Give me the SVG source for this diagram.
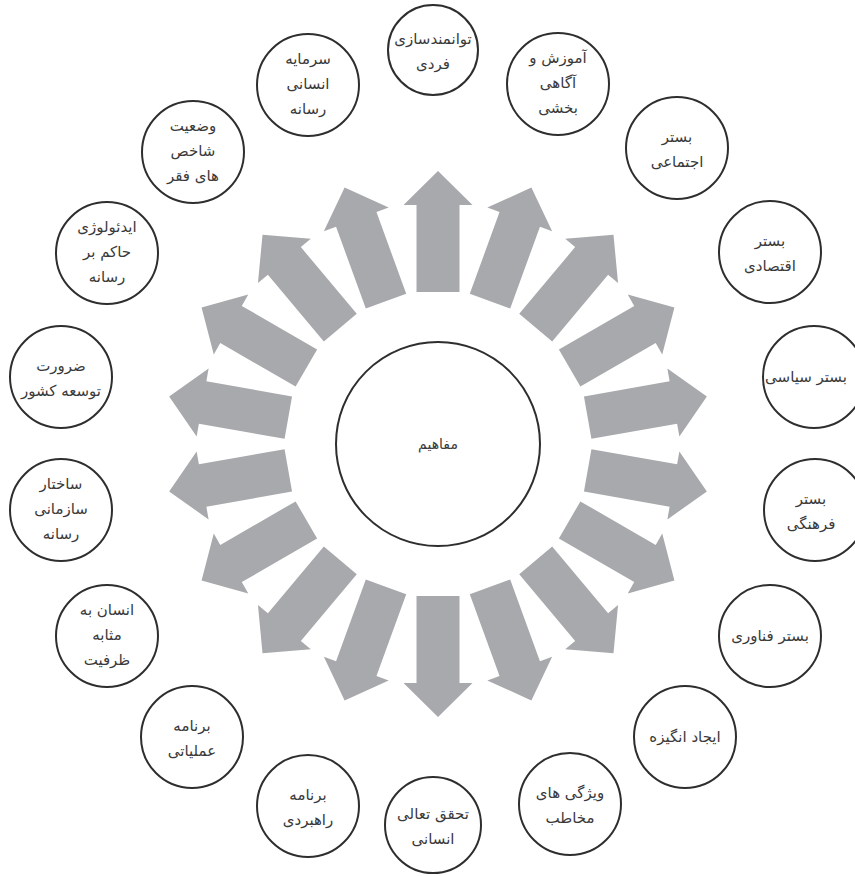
<svg xmlns="http://www.w3.org/2000/svg" xmlns:xlink="http://www.w3.org/1999/xlink" width="855" height="876" viewBox="0 0 855 876">
<style>
.c{fill:#fff;stroke:#2e2e2e;stroke-width:2}
.t{font-family:"DejaVu Sans",sans-serif;font-size:15px;fill:#3a3a3a;text-anchor:middle}
.a{fill:#a7a9ac}
</style>
<defs>
<path id="arr" class="a" d="M152,-21.5 L239,-21.5 L239,-34.5 L273,0 L239,34.5 L239,21.5 L152,21.5 Z"/>
</defs>
<rect width="855" height="876" fill="#fff"/>
<g id="connectors" transform="translate(438,444)">
<use xlink:href="#arr" transform="rotate(-90)"/>
<use xlink:href="#arr" transform="rotate(-70)"/>
<use xlink:href="#arr" transform="rotate(-50)"/>
<use xlink:href="#arr" transform="rotate(-30)"/>
<use xlink:href="#arr" transform="rotate(-10)"/>
<use xlink:href="#arr" transform="rotate(10)"/>
<use xlink:href="#arr" transform="rotate(30)"/>
<use xlink:href="#arr" transform="rotate(50)"/>
<use xlink:href="#arr" transform="rotate(70)"/>
<use xlink:href="#arr" transform="rotate(90)"/>
<use xlink:href="#arr" transform="rotate(110)"/>
<use xlink:href="#arr" transform="rotate(130)"/>
<use xlink:href="#arr" transform="rotate(150)"/>
<use xlink:href="#arr" transform="rotate(170)"/>
<use xlink:href="#arr" transform="rotate(190)"/>
<use xlink:href="#arr" transform="rotate(210)"/>
<use xlink:href="#arr" transform="rotate(230)"/>
<use xlink:href="#arr" transform="rotate(250)"/>
</g>
<g id="center"><circle class="c" cx="438" cy="444" r="102"/><text class="t" x="438" y="449" style="font-size:14px">مفاهیم</text></g>
<g id="n1"><circle class="c" cx="433" cy="50" r="45"/><text class="t" x="433" y="44">توانمندسازی</text><text class="t" x="433" y="69">فردی</text></g>
<g id="n2"><circle class="c" cx="558" cy="84" r="51"/><text class="t" x="558" y="63">آموزش و</text><text class="t" x="558" y="88">آگاهی</text><text class="t" x="558" y="113">بخشی</text></g>
<g id="n3"><circle class="c" cx="677" cy="148" r="51"/><text class="t" x="677" y="142">بستر</text><text class="t" x="677" y="167">اجتماعی</text></g>
<g id="n4"><circle class="c" cx="770" cy="252" r="51"/><text class="t" x="770" y="246">بستر</text><text class="t" x="770" y="271">اقتصادی</text></g>
<g id="n5"><circle class="c" cx="814" cy="377" r="51"/><text class="t" x="806" y="382">بستر سیاسی</text></g>
<g id="n6"><circle class="c" cx="815" cy="510" r="51"/><text class="t" x="811" y="504">بستر</text><text class="t" x="811" y="529">فرهنگی</text></g>
<g id="n7"><circle class="c" cx="770" cy="636" r="51"/><text class="t" x="770" y="641">بستر فناوری</text></g>
<g id="n8"><circle class="c" cx="685" cy="737" r="51"/><text class="t" x="685" y="742">ایجاد انگیزه</text></g>
<g id="n9"><circle class="c" cx="570" cy="804" r="51"/><text class="t" x="570" y="798">ویژگی های</text><text class="t" x="570" y="823">مخاطب</text></g>
<g id="n10"><circle class="c" cx="433" cy="825" r="48"/><text class="t" x="433" y="819">تحقق تعالی</text><text class="t" x="433" y="844">انسانی</text></g>
<g id="n11"><circle class="c" cx="308" cy="806" r="51"/><text class="t" x="308" y="800">برنامه</text><text class="t" x="308" y="825">راهبردی</text></g>
<g id="n12"><circle class="c" cx="192" cy="737" r="51"/><text class="t" x="192" y="731">برنامه</text><text class="t" x="192" y="756">عملیاتی</text></g>
<g id="n13"><circle class="c" cx="107" cy="636" r="51"/><text class="t" x="107" y="615">انسان به</text><text class="t" x="107" y="640">مثابه</text><text class="t" x="107" y="665">ظرفیت</text></g>
<g id="n14"><circle class="c" cx="61" cy="510" r="51"/><text class="t" x="61" y="489">ساختار</text><text class="t" x="61" y="514">سازمانی</text><text class="t" x="61" y="539">رسانه</text></g>
<g id="n15"><circle class="c" cx="61" cy="377" r="51"/><text class="t" x="61" y="371">ضرورت</text><text class="t" x="61" y="396">توسعه کشور</text></g>
<g id="n16"><circle class="c" cx="107" cy="253" r="51"/><text class="t" x="107" y="232">ایدئولوژی</text><text class="t" x="107" y="257">حاکم بر</text><text class="t" x="107" y="282">رسانه</text></g>
<g id="n17"><circle class="c" cx="193" cy="152" r="51"/><text class="t" x="193" y="131">وضعیت</text><text class="t" x="193" y="156">شاخص</text><text class="t" x="193" y="181">های فقر</text></g>
<g id="n18"><circle class="c" cx="308" cy="85" r="51"/><text class="t" x="308" y="64">سرمایه</text><text class="t" x="308" y="89">انسانی</text><text class="t" x="308" y="114">رسانه</text></g>
</svg>
